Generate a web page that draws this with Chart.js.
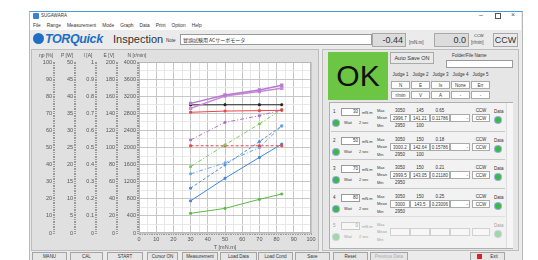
<!DOCTYPE html>
<html>
<head>
<meta charset="utf-8">
<script src="https://cdn.jsdelivr.net/npm/chart.js@4.4.1/dist/chart.umd.min.js"></script>
<style>
  body { margin:0; width:538px; height:260px; background:#fff; overflow:hidden;
         font-family:"Liberation Sans", Arial, sans-serif; color:#333; }
  .a { position:absolute; white-space:nowrap; }
  #win { position:absolute; left:29px; top:11px; width:492px; height:250px; background:#ebebeb;
         border-top:1px solid #4a9ad8; border-left:1px solid #b8b8b8; border-right:1px solid #b8b8b8; }
  .menu span { margin-right:6px; }
  .box { position:absolute; background:#fff; border:1px solid #9a9a9a; box-sizing:border-box; }
  .gbox { position:absolute; background:#dcdcdc; border:1px solid #a8a8a8; box-sizing:border-box; }
  .btn { position:absolute; top:252px; height:9px; background:#e6e6e6; border:1px solid #a4a4a4;
         box-sizing:border-box; font-size:4.5px; text-align:center; line-height:8px; color:#333; }
  .t5 { font-size:5px; }
  .cell { position:absolute; background:#fff; border:1px solid #aaa; box-sizing:border-box;
          font-size:4.5px; text-align:center; line-height:7px; height:8px; }
  .led { position:absolute; width:6px; height:6px; border-radius:50%; background:#3cb84a;
         box-shadow:0 0 0 1px #9ad; }
  #chartBox { position:absolute; left:30px; top:49px; width:288px; height:202px; }
</style>
</head>
<body>
<div id="win"></div>
<!-- title bar -->
<div class="a" style="left:30px;top:12px;width:491px;height:10px;background:#fff"></div>
<div class="a" style="left:33px;top:13px;width:6px;height:6px;background:#3a7fd0;border-radius:1px"></div>
<div class="a t5" style="left:41px;top:13px;font-size:4.5px">SUGAWARA</div>
<div class="a" style="left:479px;top:11px;font-size:7px;color:#555">–</div>
<div class="a" style="left:495px;top:13px;width:4px;height:4px;border:1px solid #555"></div>
<div class="a" style="left:511px;top:11px;font-size:7px;color:#555">×</div>
<!-- menu -->
<div class="a menu" style="left:30px;top:22px;width:491px;height:8px;background:#fff;font-size:4.8px;line-height:7px;padding-left:3px;box-sizing:border-box">
  <span>File</span><span>Range</span><span>Measurement</span><span>Mode</span><span>Graph</span><span>Data</span><span>Print</span><span>Option</span><span>Help</span>
</div>
<!-- header -->
<div class="a" style="left:33px;top:32px;font:italic bold 12.5px 'Liberation Sans',Arial;color:#1f6fc4;letter-spacing:-0.4px">
  <span style="display:inline-block;width:11px;height:11px;border-radius:50%;background:#1f6fc4;vertical-align:-1px;margin-right:1px"></span>TORQuick</div>
<div class="a" style="left:113px;top:33px;font-size:11px;color:#333">Inspection</div>
<div class="a" style="left:166px;top:38px;font-size:4.5px">Note</div>
<div class="box" style="left:180px;top:34px;width:192px;height:11px;font-size:5px;line-height:9px;padding-left:2px;font-family:'Noto Sans CJK JP'">冒頭試験用 ACサーボモータ</div>
<div class="gbox" style="left:372px;top:33px;width:34px;height:14px;font-size:9px;text-align:right;padding-right:2px;line-height:12px">-0.44</div>
<div class="a" style="left:409px;top:40px;font-size:4.5px;color:#345">[mN.m]</div>
<div class="gbox" style="left:434px;top:33px;width:35px;height:14px;font-size:9px;text-align:right;padding-right:2px;line-height:12px">0.0</div>
<div class="a" style="left:474px;top:33px;font-size:4px">CCW</div>
<div class="a" style="left:471px;top:40px;font-size:4.5px;color:#345">[r/min]</div>
<div class="gbox" style="left:493px;top:33px;width:25px;height:14px;font-size:9px;text-align:center;line-height:12px;background:#e9e9e9">CCW</div>
<!-- left panel -->
<div class="a" style="left:31px;top:49px;width:288px;height:202px;background:#e0e0e0;border:1px solid #bdbdbd;box-sizing:border-box"></div>
<div id="chartBox"><canvas id="c"></canvas></div>
<!-- right panel -->
<div class="a" style="left:322px;top:49px;width:197px;height:202px;background:#e6e6e6;border:1px solid #bdbdbd;box-sizing:border-box"></div>
<div class="a" style="left:328px;top:52px;width:60px;height:48px;background:#6cc644;font-size:30px;line-height:48px;text-align:center;color:#111">OK</div>
<div class="a" style="left:390px;top:52px;width:44px;height:12px;background:#e9e9e9;border:1px solid #aaa;box-sizing:border-box;font-size:5.5px;line-height:11px;text-align:center">Auto Save ON</div>
<div class="a" style="left:452px;top:53px;font-size:4.5px">Folder/File Name</div>
<div class="box" style="left:446px;top:60px;width:67px;height:8px"></div>
<div id="judge"></div>
<div class="a" style="left:329px;top:102px;width:184px;height:147px;background:#f2f2f2;border:1px solid #b0b0b0;box-sizing:border-box"></div>
<div class="a" style="left:506px;top:103px;width:6px;height:145px;background:#f6f6f6;border-left:1px solid #ddd"></div>
<div id="rows"></div>
<!-- buttons -->
<div id="btns"></div>

<script>
// measured torque points [mN.m]
const torque = [30, 50, 70, 83];
// series
const speedN = [2997, 3000, 3000, 3000];        // N [r/min]
const voltE = [141.2, 142.6, 143.1, 143.5];     // E [V]
const currentI = [0.115, 0.144, 0.197, 0.228];  // I [A]
const powerOut = [9.4, 16.0, 22.1, 26.0];       // P [W]
const powerIn = [13.1, 19.9, 26.7, 31.3];       // P [W]
const effP = [54.4, 64.7, 68.6, 71.9];          // ηp [%]
const effA = [75.8, 80.7, 83.6, 86.4];          // ηp [%]
const effB = [72.9, 80.1, 82.7, 84.6];          // ηp [%]
const refG = [38.8, 51.5, 63.8, 72.3];          // ηp [%]
const refB = [17.3, 20.5, 25.0, 31.3];          // P [W]
const limE = [102, 102, 102, 102];              // E [V]

// judge table + result rows
const judgeHead = ['Judge 1', 'Judge 2', 'Judge 3', 'Judge 4', 'Judge 5'];
const judgeItem = ['N', 'E', 'Is', 'None', 'Err'];
const judgeUnit = ['r/min', 'V', 'A', '-', '-'];
const setT = ['30', '50', '70', '80', '0'];
const maxN = ['3050', '3050', '3050', '3050', ''];
const maxE = ['145', '150', '150', '150', ''];
const maxI = ['0.65', '0.18', '0.21', '0.25', ''];
const meanN = ['2996.7', '3000.2', '2999.5', '3000', ''];
const meanE = ['141.21', '142.64', '143.05', '143.5', ''];
const meanI = ['0.11786', '0.15786', '0.21180', '0.23006', ''];
const minN = ['2950', '2950', '2950', '2950', ''];
const minE = ['100', '100', '', '', ''];
const buttons = ['MANU', 'CAL', 'START', 'Cursor ON', 'Measurement', 'Load Data', 'Load Cond', 'Save', 'Reset', 'Previous Data', 'Exit'];
const btnX = [32, 70, 107, 147, 182, 220, 258, 295, 333, 370, 470];
const btnW = [35, 33, 36, 31, 36, 37, 35, 35, 35, 38, 35];

let h = '';
judgeHead.forEach((t, i) => {
  const x = 391 + i * 20;
  h += `<div class="a" style="left:${x}px;top:72px;width:19px;text-align:center;font-size:4.5px">${t}</div>`;
  h += `<div class="cell" style="left:${x}px;top:81px;width:19px">${judgeItem[i]}</div>`;
  h += `<div class="cell" style="left:${x}px;top:91px;width:19px">${judgeUnit[i]}</div>`;
});
document.getElementById('judge').innerHTML = h;

h = '';
setT.forEach((t, i) => {
  const y = 104 + i * 28.5;
  const off = i === 4 ? 'opacity:0.45;' : '';
  h += `<div style="${off}">`;
  if (i > 0) h += `<div class="a" style="left:331px;top:${y - 2}px;width:174px;height:1px;background:#c8c8c8"></div>`;
  h += `<div class="a" style="left:333px;top:${y + 5}px;font-size:4.5px">${i + 1}</div>`;
  h += `<div class="box" style="left:341px;top:${y + 4}px;width:19px;height:8px;font-size:4.5px;text-align:right;padding-right:1px;line-height:6px">${t}</div>`;
  h += `<div class="a" style="left:362px;top:${y + 6}px;font-size:4px">mN.m</div>`;
  h += `<div class="led" style="left:333px;top:${y + 16}px"></div>`;
  h += `<div class="a" style="left:344px;top:${y + 16}px;font-size:4px">Wait</div>`;
  h += `<div class="a" style="left:359px;top:${y + 16}px;font-size:4px">2 sec</div>`;
  h += `<div class="a" style="left:377px;top:${y + 4}px;font-size:4px">Max</div>`;
  h += `<div class="a" style="left:377px;top:${y + 11}px;font-size:4px">Mean</div>`;
  h += `<div class="a" style="left:377px;top:${y + 19}px;font-size:4px">Min</div>`;
  const cx = [390, 410, 430, 450, 472];
  const mx = [maxN[i], maxE[i], maxI[i], '', i < 4 ? 'CCW' : ''];
  const me = [meanN[i], meanE[i], meanI[i], i < 4 ? '-' : '', i < 4 ? 'CCW' : ''];
  const mn = [minN[i], minE[i], '', '', ''];
  cx.forEach((x, k) => {
    const w = k === 4 ? 18 : 20;
    h += `<div class="a" style="left:${x}px;top:${y + 4}px;width:${w}px;text-align:center;font-size:4.5px">${mx[k]}</div>`;
    h += `<div class="cell" style="left:${x}px;top:${y + 10}px;width:${w}px;${k === 3 ? 'text-align:right;padding-right:1px' : ''}">${me[k]}</div>`;
    h += `<div class="a" style="left:${x}px;top:${y + 19}px;width:${w}px;text-align:center;font-size:4.5px">${mn[k]}</div>`;
  });
  h += `<div class="a" style="left:494px;top:${y + 5}px;font-size:4.5px">Data</div>`;
  h += `<div class="led" style="left:495px;top:${y + 13}px"></div>`;
  h += `</div>`;
});
document.getElementById('rows').innerHTML = h;

h = '';
buttons.forEach((b, i) => {
  const dim = b === 'Previous Data' ? 'color:#aaa;' : '';
  const mark = b === 'Exit' ? '<span style="display:inline-block;width:5px;height:5px;background:#e02020;margin-right:8px;vertical-align:-1px"></span>' : '';
  h += `<div class="btn" style="left:${btnX[i]}px;width:${btnW[i]}px;${dim}">${mark}${b}</div>`;
});
document.getElementById('btns').innerHTML = h;

// chart
const pts = arr => torque.map((t, i) => ({ x: t, y: arr[i] }));

function sideAxis(max, weight, fmt) {
  return {
    type: 'linear', position: 'left', min: 0, max: max, weight: weight,
    afterFit: s => { s.width = 21; },
    border: { display: false },
    grid: { drawOnChartArea: false, tickLength: 2, tickColor: '#9a9a9a', tickWidth: 1 },
    ticks: {
      stepSize: max / 100, autoSkip: false, padding: 1, color: '#555',
      font: { size: 5.5, family: 'Liberation Sans' },
      callback: (v, i) => i % 10 === 0 ? fmt(v) : ''
    }
  };
}

const axisTitles = {
  id: 'axisTitles',
  beforeDraw(chart) {
    const { ctx, chartArea } = chart;
    ctx.save();
    ctx.fillStyle = '#fff';
    ctx.fillRect(chartArea.left, chartArea.top, chartArea.width, chartArea.height);
    ctx.restore();
  },
  afterDraw(chart) {
    const { ctx, chartArea } = chart;
    ctx.save();
    ctx.font = '5px "Liberation Sans"';
    ctx.fillStyle = '#555';
    ctx.textAlign = 'center';
    const names = { yEta: 'ηp [%]', yP: 'P [W]', yI: 'I [A]', yE: 'E [V]', yN: 'N [r/min]' };
    for (const id in names) {
      const s = chart.scales[id];
      ctx.fillText(names[id], s.right - (id === 'yN' ? 2 : 9), chartArea.top - 5);
    }
    ctx.strokeStyle = '#b8b8b8';
    ctx.strokeRect(chartArea.left + 0.5, chartArea.top + 0.5, chartArea.width - 1, chartArea.height - 1);
    ctx.restore();
  }
};

const line = (data, axis, color, dash, w) => ({
  data: pts(data), yAxisID: axis, borderColor: color, backgroundColor: color,
  borderWidth: w || 1, borderDash: dash || [], pointRadius: 1.3, pointStyle: 'rect'
});
const dashDot = [4, 2, 1, 2];

const yN = sideAxis(4000, 0, v => String(v));
yN.grid = {
  drawOnChartArea: true, tickLength: 2, tickColor: '#9a9a9a',
  color: c => c.tick.value % 400 === 0 ? '#c6c6c6' : (c.tick.value % 200 === 0 ? '#e8e8e8' : 'rgba(0,0,0,0)')
};

new Chart(document.getElementById('c'), {
  type: 'line',
  data: {
    datasets: [
      line(effA, 'yEta', '#b77ad0', [], 1.5),
      line(effB, 'yEta', '#c78ad8', [], 1.5),
      line(speedN, 'yN', '#222222'),
      line(voltE, 'yE', '#ee4444'),
      line(effP, 'yEta', '#b070c8', dashDot),
      line(refG, 'yEta', '#7acc5a', dashDot),
      line(limE, 'yE', '#ee4444', [3, 2]),
      line(refB, 'yP', '#6aa8e8', dashDot),
      line(powerIn, 'yP', '#4a8ee0', [3, 2]),
      line(powerOut, 'yP', '#3f86dc'),
      line(currentI, 'yI', '#5cbb44')
    ]
  },
  options: {
    responsive: true, maintainAspectRatio: false, animation: false,
    layout: { padding: { left: 4, top: 13, right: 7, bottom: 0 } },
    plugins: { legend: { display: false }, tooltip: { enabled: false } },
    scales: {
      x: {
        type: 'linear', min: 0, max: 100,
        afterFit: s => { s.height = 18; },
        border: { display: false },
        grid: {
          tickLength: 2, tickColor: '#9a9a9a',
          color: c => c.tick.value % 10 === 0 ? '#c6c6c6' : (c.tick.value % 5 === 0 ? '#e8e8e8' : 'rgba(0,0,0,0)')
        },
        ticks: {
          stepSize: 1, autoSkip: false, maxRotation: 0, padding: 1, color: '#555',
          font: { size: 5.5, family: 'Liberation Sans' },
          callback: (v, i) => i % 10 === 0 ? String(v) : ''
        },
        title: { display: true, text: 'T [mN.m]', color: '#555', padding: { top: 1, bottom: 0 },
                 font: { size: 5.5, family: 'Liberation Sans' } }
      },
      yN: yN,
      yE: sideAxis(200, 1, v => String(v)),
      yI: sideAxis(1, 2, v => String(+v.toFixed(1))),
      yP: sideAxis(50, 3, v => String(Math.round(v))),
      yEta: sideAxis(100, 4, v => String(Math.round(v)))
    }
  },
  plugins: [axisTitles]
});
</script>
</body>
</html>
